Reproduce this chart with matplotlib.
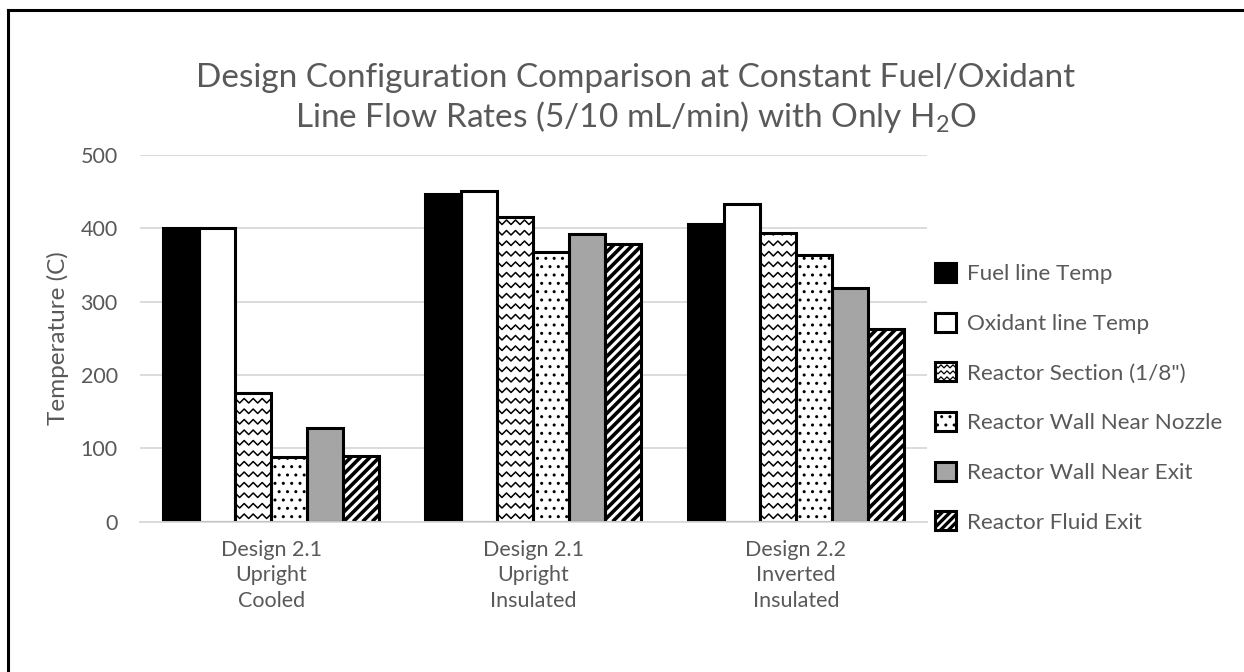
import numpy as np
import matplotlib
matplotlib.use("Agg")
import matplotlib.pyplot as plt
from matplotlib.patches import Rectangle
from matplotlib.lines import Line2D

# ---- data -------------------------------------------------------------
categories = ["Design 2.1\nUpright\nCooled",
              "Design 2.1\nUpright\nInsulated",
              "Design 2.2\nInverted\nInsulated"]
series_names = ["Fuel line Temp", "Oxidant line Temp", 'Reactor Section (1/8")',
                "Reactor Wall Near Nozzle", "Reactor Wall Near Exit", "Reactor Fluid Exit"]
fuel_line = [400, 447, 406]
oxidant_line = [401, 451, 433]
reactor_section = [175, 415, 393]
wall_near_nozzle = [88, 367, 363]
wall_near_exit = [128, 392, 319]
fluid_exit = [90, 379, 263]
y_ticks = [0, 100, 200, 300, 400, 500]

series_values = [fuel_line, oxidant_line, reactor_section,
                 wall_near_nozzle, wall_near_exit, fluid_exit]

# ---- styling ----------------------------------------------------------
plt.rcParams["font.family"] = ["Lato", "DejaVu Sans"]
plt.rcParams["mathtext.default"] = "regular"
TEXT = "#595959"
GRID = "#d9d9d9"
faces = ["black", "white", "white", "white", "#a5a5a5", "white"]
patterns = [None, None, "zigzag", "dots", None, "stripes"]
EDGE_LW = 2.2
TICK_FS = 15.5
LEGEND_FS = 16.2

W, H = 1244, 672
fig = plt.figure(figsize=(W / 100, H / 100), dpi=100)
ax_l, ax_r, ax_t, ax_b = 140, 927, 155, 521.5
ax = fig.add_axes([ax_l / W, 1 - ax_b / H, (ax_r - ax_l) / W, (ax_b - ax_t) / H])
ax.set_xlim(-0.5, len(categories) - 0.5)
ax.set_ylim(0, 500)

# data units per pixel
ux = len(categories) / (ax_r - ax_l)
uy = 500 / (ax_b - ax_t)

x = np.arange(len(categories))
n = len(series_values)
bw = 36 * ux


def zigzag_lines(x0, w, h, sx, sy, row=10.5, half=4.5, amp=4.5):
    """Zigzag rows covering a box, sizes given in pixels, scaled by sx/sy."""
    lines = []
    nrow = int(h / sy / row) + 2
    npts = int(w / sx / half) + 3
    for r in range(nrow):
        yc = (r + 0.5) * row
        xs = x0 + np.arange(npts) * half * sx
        ys = (yc + np.where(np.arange(npts) % 2 == 0, amp / 2, -amp / 2)) * sy
        lines.append((xs, ys))
    return lines


def stripe_lines(x0, w, h, sx, sy, step=9.5):
    lines = []
    wp, hp = w / sx, h / sy
    c = -hp
    while c < wp + step:
        xs = np.array([x0 + c * sx, x0 + (c + hp + 2) * sx])
        ys = np.array([0, (hp + 2) * sy])
        lines.append((xs, ys))
        c += step
    return lines


for i, (vals, fc, pat) in enumerate(zip(series_values, faces, patterns)):
    pos = x + (i - (n - 1) / 2) * bw
    bars = ax.bar(pos, vals, width=bw, color=fc, edgecolor="none", zorder=2,
                  hatch=".." if pat == "dots" else None, label=series_names[i])
    for b in bars:
        if pat == "dots":
            b.set_edgecolor("black")
            b.set_linewidth(0)
    for b in bars:
        bx, bwid, bh = b.get_x(), b.get_width(), b.get_height()
        if pat == "zigzag":
            for xs, ys in zigzag_lines(bx, bwid, bh, ux, uy):
                ln = Line2D(xs, ys, color="black", lw=1.1, zorder=2.1)
                ax.add_line(ln)
                ln.set_clip_path(b)
        elif pat == "stripes":
            for xs, ys in stripe_lines(bx, bwid, bh, ux, uy):
                ln = Line2D(xs, ys, color="black", lw=2.6, zorder=2.1,
                            solid_capstyle="butt")
                ax.add_line(ln)
                ln.set_clip_path(b)
    ax.bar(pos, vals, width=bw, fill=False, edgecolor="black",
           linewidth=EDGE_LW, zorder=2.2)

# ---- axes -------------------------------------------------------------
ax.set_yticks(y_ticks)
ax.set_xticks(x)
ax.set_xticklabels(categories, color=TEXT, fontsize=TICK_FS, linespacing=1.36)
ax.tick_params(axis="y", length=0, pad=16, labelsize=TICK_FS, labelcolor=TEXT)
ax.tick_params(axis="x", length=0, pad=13)
ax.yaxis.grid(True, color=GRID, lw=1.3)
ax.set_axisbelow(True)
for s in ("left", "right", "top"):
    ax.spines[s].set_visible(False)
ax.spines["bottom"].set_color(GRID)
ax.spines["bottom"].set_linewidth(1.3)

fig.text(58 / W, 1 - 338 / H, "Temperature (C)", rotation=90, ha="center",
         va="center", color=TEXT, fontsize=17.5)

fig.text(636 / W, 1 - 99 / H,
         "Design Configuration Comparison at Constant Fuel/Oxidant\n"
         "Line Flow Rates (5/10 mL/min) with Only H$_2$O",
         ha="center", va="center", color=TEXT, fontsize=24, linespacing=1.2)


# ---- legend -----------------------------------------------------------
class PatternHandler:
    def __init__(self, face, pattern):
        self.face = face
        self.pattern = pattern

    def legend_artist(self, legend, orig_handle, fontsize, handlebox):
        x0, y0 = -handlebox.xdescent, -handlebox.ydescent
        w, h = handlebox.width, handlebox.height
        tr = handlebox.get_transform()
        face = Rectangle((x0, y0), w, h, facecolor=self.face,
                         edgecolor="black", lw=0,
                         hatch=".." if self.pattern == "dots" else None,
                         transform=tr)
        handlebox.add_artist(face)
        if self.pattern in ("zigzag", "stripes"):
            k = 0.72  # points per pixel
            if self.pattern == "zigzag":
                segs = zigzag_lines(x0, w, h, k, k, row=6, half=3, amp=3)
                lw = 0.9
            else:
                segs = stripe_lines(x0, w, h, k, k, step=8)
                lw = 2.4
            for xs, ys in segs:
                ln = Line2D(xs, ys + y0, color="black", lw=lw, transform=tr,
                            solid_capstyle="butt")
                handlebox.add_artist(ln)
                ln.set_clip_path(face)
        edge = Rectangle((x0, y0), w, h, fill=False, edgecolor="black",
                         lw=EDGE_LW, transform=tr)
        handlebox.add_artist(edge)
        return face


proxies = [Rectangle((0, 0), 1, 1) for _ in series_names]
hmap = {p: PatternHandler(fc, pat) for p, fc, pat in zip(proxies, faces, patterns)}
fig.legend(proxies, series_names, handler_map=hmap, loc="upper left",
           bbox_to_anchor=(935 / W, 1 - 263 / H), frameon=False,
           fontsize=LEGEND_FS, labelcolor=TEXT, handlelength=0.92, handleheight=0.92,
           handletextpad=0.5, labelspacing=1.265, borderpad=0, borderaxespad=0)

# ---- outer frame --------------------------------------------------------
fig.add_artist(Line2D([8 / W, 8 / W], [0, 1 - 10 / H], transform=fig.transFigure,
                      color="black", lw=2.2))
fig.add_artist(Line2D([8 / W, 1], [1 - 10 / H, 1 - 10 / H], transform=fig.transFigure,
                      color="black", lw=2.2))

fig.savefig("out.png", dpi=100, facecolor="white")
